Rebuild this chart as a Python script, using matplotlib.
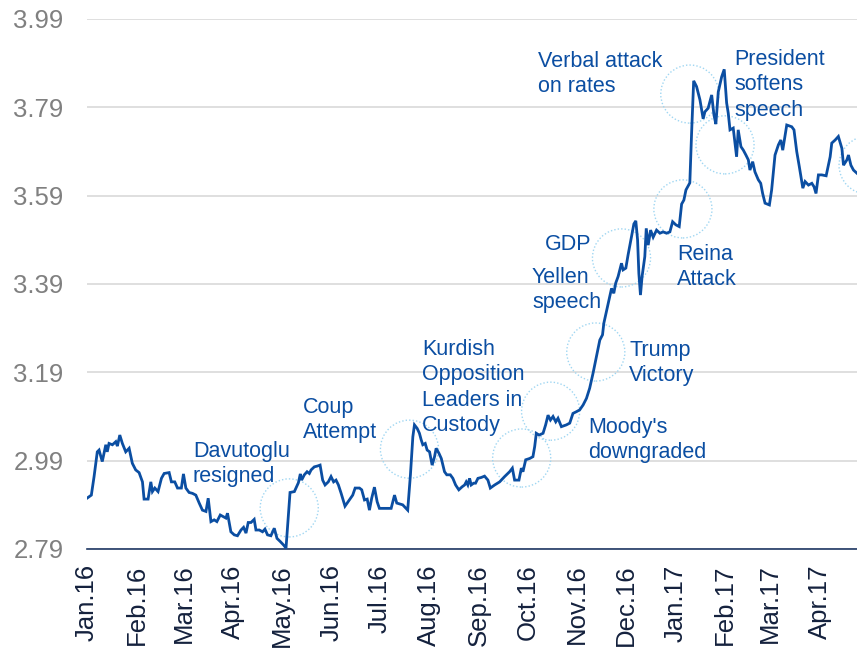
import matplotlib
matplotlib.use('Agg')
import matplotlib.pyplot as plt
import matplotlib.dates as mdates
import numpy as np
import pandas as pd

# USD/TRY, days counted from 1 Jan 2016
days = [0, 2.7, 4.4, 6.4, 7.5, 9.5, 11.7, 12.6, 13.7, 15.8, 17.9, 18.9, 20.4, 22.0, 24.1, 26.2, 28.2, 30.3,
        32.4, 34.5, 35.5, 38.0, 39.7, 40.7, 42.2, 44.2, 46.3, 48.0, 51.1, 52.5, 54.6, 56.3, 58.7, 60.0, 61.5,
        63.5, 65.6, 67.7, 69.8, 71.8, 74.0, 75.4, 77.1, 79.1, 80.8, 82.9, 84.9, 86.4, 87.4, 89.5, 91.6, 93.6,
        95.8, 97.4, 98.9, 100.3, 102.0, 104.0, 105.1, 107.2, 109.2, 110.7, 112.3, 114.4, 116.5, 118.2, 120.2,
        122.3, 123.8, 126.3, 129.0, 131.5, 132.7, 133.5, 135.2, 136.9, 138.3, 139.4, 141.4, 143.5, 145.0,
        146.6, 148.1, 150.1, 151.8, 153.4, 154.9, 156.4, 158.1, 160.5, 163.2, 165.3, 166.8, 169.5, 170.9,
        172.6, 174.3, 175.7, 177.1, 178.8, 180.5, 181.9, 189.2, 191.3, 192.7, 196.4, 199.5, 201.2, 202.7,
        203.7, 205.4, 206.8, 207.9, 208.9, 210.4, 211.6, 213.1, 214.7, 216.2, 217.2, 218.9, 220.4, 222.4,
        223.8, 226.0, 227.6, 229.3, 231.3, 233.4, 234.9, 235.9, 236.9, 238.0, 239.0, 240.5, 241.7, 243.2,
        245.3, 247.3, 249.4, 250.9, 253.6, 256.7, 259.8, 262.9, 264.6, 266.0, 268.7, 270.2, 271.2, 272.9,
        275.4, 277.4, 278.5, 279.5, 281.2, 283.7, 285.3, 286.8, 288.3, 289.9, 291.6, 293.0, 295.1, 298.2,
        300.3, 302.3, 304.5, 306.5, 308.6, 310.7, 312.7, 314.8, 316.9, 319.0, 320.7, 321.5, 323.1, 325.2,
        326.3, 327.7, 328.9, 330.4, 332.5, 333.5, 335.2, 336.6, 338.7, 340.2, 341.4, 342.5, 343.3, 344.3,
        345.3, 347.0, 347.9, 349.1, 350.6, 352.2, 354.3, 356.4, 358.4, 360.5, 362.6, 364.3, 366.3, 368.4,
        369.9, 371.3, 372.6, 375.0, 376.1, 377.4, 379.2, 381.3, 383.3, 384.4, 386.4, 388.6, 390.0, 391.2,
        392.7, 394.8, 396.4, 397.9, 398.9, 400.0, 402.0, 404.1, 405.1, 406.8, 408.3, 409.9, 411.4, 412.4,
        414.1, 415.5, 417.6, 419.1, 420.3, 421.8, 424.5, 425.9, 428.0, 430.1, 431.6, 432.8, 435.3, 438.4,
        439.8, 441.5, 443.1, 445.3, 446.7, 448.8, 450.9, 452.3, 453.5, 455.0, 457.1, 459.8, 462.3, 463.3,
        465.4, 467.4, 469.6, 470.6, 472.7, 473.7, 475.2, 476.8, 478.9]

usdtry = [2.905, 2.912, 2.954, 3.010, 3.014, 2.988, 3.026, 3.010, 3.029, 3.026, 3.033, 3.023, 3.048, 3.029,
          3.010, 3.018, 2.984, 2.969, 2.963, 2.942, 2.903, 2.903, 2.942, 2.920, 2.928, 2.920, 2.950, 2.961,
          2.963, 2.942, 2.942, 2.928, 2.928, 2.960, 2.928, 2.918, 2.916, 2.912, 2.894, 2.878, 2.875, 2.905,
          2.852, 2.856, 2.852, 2.867, 2.863, 2.860, 2.871, 2.829, 2.822, 2.820, 2.833, 2.839, 2.826, 2.850,
          2.850, 2.857, 2.833, 2.833, 2.829, 2.835, 2.822, 2.820, 2.837, 2.814, 2.807, 2.799, 2.792, 2.918,
          2.920, 2.940, 2.960, 2.946, 2.958, 2.965, 2.961, 2.969, 2.976, 2.978, 2.980, 2.946, 2.935, 2.942,
          2.954, 2.942, 2.946, 2.935, 2.916, 2.887, 2.901, 2.912, 2.928, 2.928, 2.924, 2.901, 2.903, 2.878,
          2.905, 2.930, 2.897, 2.882, 2.882, 2.912, 2.894, 2.890, 2.878, 2.958, 3.044, 3.071, 3.063, 3.052,
          3.037, 3.026, 3.029, 3.014, 3.010, 2.980, 2.999, 3.018, 3.007, 2.995, 2.965, 2.958, 2.958, 2.950,
          2.935, 2.924, 2.931, 2.935, 2.942, 2.935, 2.950, 2.935, 2.939, 2.939, 2.950, 2.952, 2.955, 2.946,
          2.928, 2.935, 2.942, 2.954, 2.965, 2.973, 2.946, 2.946, 2.973, 2.965, 2.992, 2.995, 2.999, 3.022,
          3.052, 3.048, 3.052, 3.071, 3.093, 3.082, 3.090, 3.078, 3.086, 3.067, 3.071, 3.075, 3.097, 3.101,
          3.105, 3.116, 3.131, 3.154, 3.188, 3.225, 3.263, 3.275, 3.301, 3.327, 3.361, 3.380, 3.369, 3.392,
          3.407, 3.437, 3.422, 3.426, 3.456, 3.497, 3.526, 3.533, 3.490, 3.414, 3.365, 3.407, 3.452, 3.516,
          3.478, 3.512, 3.496, 3.512, 3.505, 3.508, 3.505, 3.508, 3.531, 3.524, 3.520, 3.571, 3.580, 3.603,
          3.619, 3.731, 3.850, 3.837, 3.807, 3.764, 3.780, 3.788, 3.818, 3.773, 3.752, 3.825, 3.859, 3.876,
          3.800, 3.777, 3.739, 3.743, 3.678, 3.739, 3.701, 3.693, 3.682, 3.671, 3.648, 3.667, 3.644, 3.626,
          3.618, 3.595, 3.573, 3.569, 3.603, 3.682, 3.705, 3.716, 3.693, 3.750, 3.746, 3.739, 3.690, 3.656,
          3.607, 3.622, 3.614, 3.618, 3.610, 3.595, 3.637, 3.637, 3.635, 3.678, 3.709, 3.716, 3.724, 3.697,
          3.659, 3.671, 3.682, 3.659, 3.648, 3.641]

# event markers (dotted circles)
event_days = [125.8, 200.6, 270.4, 288.4, 316.5, 332.5, 370.7, 375.0, 396.9, 485.9]
event_levels = [2.883, 3.016, 2.996, 3.102, 3.236, 3.449, 3.560, 3.820, 3.705, 3.659]

event_labels = ['Davutoglu\nresigned', 'Coup\nAttempt', 'Kurdish\nOpposition\nLeaders in\nCustody',
                "Moody's\ndowngraded", 'Trump\nVictory', 'GDP', 'Yellen\nspeech', 'Reina\nAttack',
                'Verbal attack\non rates', 'President\nsoftens\nspeech']
label_px = [(193, 441), (303, 397), (422, 339), (588, 417), (629, 340), (545, 234), (532, 267),
            (677, 244), (538, 51), (734, 49)]

yticks = [2.79, 2.99, 3.19, 3.39, 3.59, 3.79, 3.99]

plt.rcParams['font.family'] = ['Liberation Sans', 'DejaVu Sans']

start = pd.Timestamp('2016-01-01')
dates = start + pd.to_timedelta(days, unit='D')
ev_dates = start + pd.to_timedelta(event_days, unit='D')

W, H = 857, 655
fig = plt.figure(figsize=(W / 100, H / 100), dpi=100)
ax = fig.add_axes([87 / W, 1 - 549 / H, 1 - 87 / W, (549 - 19) / H])

blue = '#0b4ea2'
ax.plot(dates, usdtry, color=blue, linewidth=2.0, zorder=3, solid_joinstyle='miter')
ax.scatter(ev_dates, event_levels, s=1750, facecolors='none', edgecolors='#9fd6f2',
           linewidths=1.0, linestyle=(0, (1, 1.5)), zorder=2, clip_on=False)

ax.set_ylim(2.79, 3.99)
ax.set_xlim(start, start + pd.Timedelta(days=479))
ax.set_yticks(yticks)
ax.yaxis.set_major_formatter(matplotlib.ticker.FormatStrFormatter('%.2f'))
ax.grid(axis='y', color='#d9d9d9', linewidth=1.2)
ax.set_axisbelow(True)

ax.xaxis.set_major_locator(mdates.MonthLocator())
ax.xaxis.set_major_formatter(mdates.DateFormatter('%b.%y'))
for sp in ['top', 'left', 'right']:
    ax.spines[sp].set_visible(False)
ax.spines['bottom'].set_color('#1f3864')
ax.spines['bottom'].set_linewidth(1.2)
ax.tick_params(axis='y', length=0, pad=17, labelsize=18.5, labelcolor='#808080')
ax.tick_params(axis='x', length=0, pad=11, labelsize=18.5, labelcolor='#14213d', labelrotation=90)

for txt, (px, py) in zip(event_labels, label_px):
    fig.text(px / W, 1 - py / H, txt, color=blue, fontsize=15.5, ha='left', va='top',
             linespacing=1.27)

plt.savefig('out.png', dpi=100)
